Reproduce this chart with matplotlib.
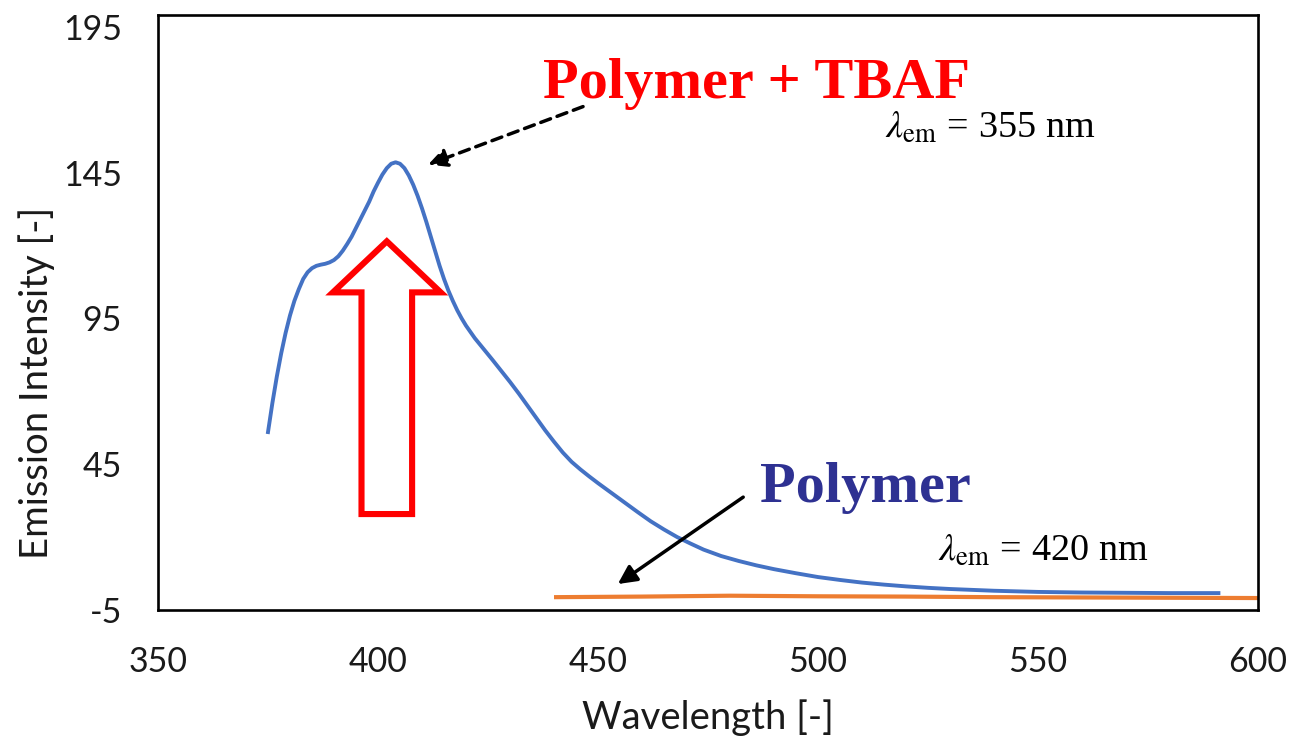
import matplotlib.pyplot as plt
from matplotlib.patches import FancyArrow

# Polymer + TBAF (blue), lambda_em = 355 nm
wl_tbaf = [375, 376, 377, 378, 379, 380, 381, 382, 383, 384, 385, 386, 387,
           388, 389, 390, 391, 392, 393, 394, 395, 396, 397, 398, 399, 400,
           401, 402, 403, 404, 405, 406, 407, 408, 409, 410, 411, 412, 413,
           414, 415, 416, 417, 418, 419, 420, 422, 424, 426, 428, 430, 432,
           434, 436, 438, 440, 442, 444, 446, 448, 450, 453, 456, 459, 462,
           465, 468, 471, 474, 478, 482, 486, 490, 495, 500, 505, 510, 515,
           520, 525, 530, 540, 550, 560, 570, 580, 591]
int_tbaf = [56, 66, 75, 83, 90, 96, 101, 105, 108.5, 110.8, 112.2, 113, 113.4,
            113.7, 114.2, 115, 116.3, 118.2, 120.5, 123, 126, 129, 132, 135,
            138.5, 141.5, 144.3, 146.5, 148, 148.5, 148, 146.5, 144, 140.8,
            137, 132.7, 128, 123, 118, 113, 108.5, 104.5, 101, 97.8, 95, 92.5,
            88.2, 84.5, 80.8, 77, 73.2, 69.2, 65, 60.8, 56.6, 52.7, 49, 45.8,
            43.2, 40.8, 38.5, 35.2, 31.9, 28.6, 25.4, 22.6, 20, 17.8, 15.7,
            13.5, 11.8, 10.3, 9, 7.6, 6.3, 5.3, 4.4, 3.7, 3.1, 2.6, 2.2, 1.6,
            1.2, 1.0, 0.9, 0.8, 0.8]

# Polymer (orange), lambda_em = 420 nm
wl_poly = [440, 460, 480, 500, 520, 540, 560, 580, 600]
int_poly = [-0.6, -0.4, -0.1, -0.3, -0.4, -0.6, -0.7, -0.8, -0.9]

x_ticks = [350, 400, 450, 500, 550, 600]
y_ticks = [-5, 45, 95, 145, 195]

plt.rcParams['mathtext.fontset'] = 'stix'
plt.rcParams['axes.unicode_minus'] = False

fig = plt.figure(figsize=(12.94, 7.43), dpi=100)
ax = fig.add_axes([0.1221, 0.179, 0.8501, 0.8008])

ax.plot(wl_poly, int_poly, color='#ED7D31', lw=3, solid_capstyle='butt')
ax.plot(wl_tbaf, int_tbaf, color='#4472C4', lw=2.8)

ax.set_xlim(350, 600)
ax.set_ylim(-5, 199)
ax.set_xticks(x_ticks)
ax.set_yticks(y_ticks)
ax.tick_params(length=0, labelsize=24.5, pad=26)
for lab in ax.get_xticklabels() + ax.get_yticklabels():
    lab.set_family('Lato')
    lab.set_color('#1a1a1a')
for s in ax.spines.values():
    s.set_linewidth(1.9)
    s.set_color('black')

ax.set_xlabel('Wavelength [-]', family='Lato', fontsize=27.5, color='#1a1a1a')
ax.set_ylabel('Emission Intensity [-]', family='Lato', fontsize=27.5, color='#1a1a1a')
ax.xaxis.set_label_coords(0.5, -0.15)
ax.yaxis.set_label_coords(-0.094, 0.381)

# red hollow block arrow
ax.add_patch(FancyArrow(402, 27.9, 0, 93.5, width=11.5, head_width=24.5,
                        head_length=17.5, length_includes_head=True,
                        fill=False, ec='#FF0000', lw=4.4, joinstyle='miter'))

ax.text(486.1, 170.7, 'Polymer + TBAF', color='#FF0000', fontsize=42,
        fontweight='bold', family='Liberation Serif', ha='center', va='baseline')
ax.text(515.2, 157, r'$\lambda_{\rm em}$ = 355 nm', fontsize=27.5,
        family='Liberation Serif', ha='left', va='baseline')
ax.text(486.8, 32, 'Polymer', color='#2E3192', fontsize=42,
        fontweight='bold', family='Liberation Serif', ha='left', va='baseline')
ax.text(527.3, 11.8, r'$\lambda_{\rm em}$ = 420 nm', fontsize=27.5,
        family='Liberation Serif', ha='left', va='baseline')

ax.annotate('', xy=(411.4, 147.7), xytext=(446.6, 167.6),
            arrowprops=dict(arrowstyle='-|>', linestyle=(0, (3, 2)), lw=2.5,
                            color='black', mutation_scale=28, shrinkA=0, shrinkB=0))
ax.annotate('', xy=(454.5, 3.9), xytext=(483, 33.7),
            arrowprops=dict(arrowstyle='-|>', lw=2.5, color='black',
                            mutation_scale=28, shrinkA=0, shrinkB=0))

fig.savefig('out.png', dpi=100)
